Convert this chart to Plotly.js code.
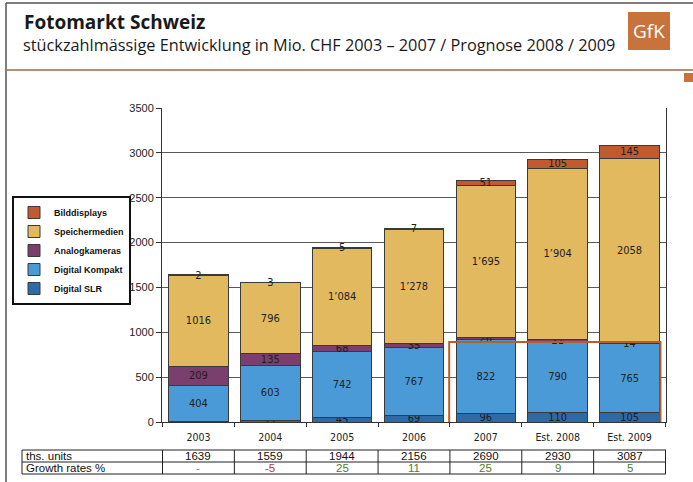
<!DOCTYPE html>
<html>
<head>
<meta charset="utf-8">
<script src="https://cdn.plot.ly/plotly-3.0.1.min.js"></script>
<style>
html,body{margin:0;padding:0;background:#ffffff;}
#chart{width:693px;height:482px;}
</style>
</head>
<body>
<div id="chart"></div>
<script>
const categories = ['2003','2004','2005','2006','2007','Est. 2008','Est. 2009'];
const digitalSLR = [8,22,45,69,96,110,105];
const digitalKompakt = [404,603,742,767,822,790,765];
const analogkameras = [209,135,68,35,26,21,14];
const speichermedien = [1016,796,1084,1278,1695,1904,2058];
const speichermedienLabels = ['1016','796','1\u2019084','1\u2019278','1\u2019695','1\u2019904','2058'];
const bilddisplays = [2,3,5,7,51,105,145];
const thsUnits = [1639,1559,1944,2156,2690,2930,3087];
const growthRates = ['-','-5','25','11','25','9','5'];
const yTicks = [0,500,1000,1500,2000,2500,3000,3500];

const sans = '"Liberation Sans", Arial, sans-serif';
const cond = '"DejaVu Sans Condensed", Verdana, sans-serif';

function barTrace(name, vals, labels, color) {
  return {
    type: 'bar', name: name, x: categories, y: vals,
    text: labels || vals.map(String),
    textposition: 'inside', insidetextanchor: 'middle', textangle: 0,
    textfont: {family: cond, size: 11, color: '#1e1e1e'},
    marker: {color: color, line: {color: '#3a3a3a', width: 1}},
    hoverinfo: 'name+y'
  };
}

const data = [
  barTrace('Digital SLR', digitalSLR, null, '#2f6aa8'),
  barTrace('Digital Kompakt', digitalKompakt, null, '#4a9ad8'),
  barTrace('Analogkameras', analogkameras, null, '#7a3f6c'),
  barTrace('Speichermedien', speichermedien, speichermedienLabels, '#e2b95e'),
  barTrace('Bilddisplays', bilddisplays, null, '#c25a30')
];

// plot area geometry helpers (paper coords)
const L = 162, R = 666, T = 108, B = 422;
const px = p => (p - L) / (R - L);
const py = p => (B - p) / (B - T);

const shapes = [];
const annotations = [];

// frame lines
shapes.push({type:'line', xref:'paper', yref:'paper', x0:px(6), x1:px(693), y0:py(3), y1:py(3), line:{color:'#555', width:1.5}});
shapes.push({type:'line', xref:'paper', yref:'paper', x0:px(6), x1:px(6), y0:py(3), y1:py(482), line:{color:'#555', width:1.5}});
shapes.push({type:'line', xref:'paper', yref:'paper', x0:px(6), x1:px(693), y0:py(70), y1:py(70), line:{color:'#9a6a48', width:1.5}});
shapes.push({type:'rect', xref:'paper', yref:'paper', x0:px(684), x1:px(694), y0:py(73), y1:py(82), fillcolor:'#c8733c', line:{width:0}});
// GfK logo
shapes.push({type:'rect', xref:'paper', yref:'paper', x0:px(628), x1:px(670), y0:py(12), y1:py(50), fillcolor:'#c8733c', line:{width:0}});
annotations.push({xref:'paper', yref:'paper', x:px(649), y:py(31), text:'GfK', showarrow:false, xanchor:'center', yanchor:'middle', font:{family:'"Open Sans", sans-serif', size:19, color:'#ffffff'}});
// titles
annotations.push({xref:'paper', yref:'paper', x:px(22), y:py(22), text:'Fotomarkt Schweiz', showarrow:false, xanchor:'left', yanchor:'middle', font:{family:'"Open Sans", sans-serif', size:19, color:'#1a1a1a', weight:'bold'}});
annotations.push({xref:'paper', yref:'paper', x:px(21), y:py(45), text:'stückzahlmässige Entwicklung in Mio. CHF 2003 – 2007 / Prognose 2008 / 2009', showarrow:false, xanchor:'left', yanchor:'middle', font:{family:'"Open Sans", sans-serif', size:16.3, color:'#1a1a1a'}});

// highlight box for 2007-2009
shapes.push({type:'rect', xref:'x', yref:'y', x0:3.49, x1:6.43, y0:-11, y1:891, line:{color:'#b5602a', width:2}, layer:'above'});

// table
const tTop = 450, tMid = 462, tBot = 474, tLeft = 22;
[tTop, tMid, tBot].forEach(yy => {
  shapes.push({type:'line', xref:'paper', yref:'paper', x0:px(tLeft), x1:1, y0:py(yy), y1:py(yy), line:{color:'#222', width:1}});
});
shapes.push({type:'line', xref:'paper', yref:'paper', x0:px(tLeft), x1:px(tLeft), y0:py(tTop), y1:py(tBot), line:{color:'#222', width:1}});
for (let k = 0; k <= categories.length; k++) {
  shapes.push({type:'line', xref:'x', yref:'paper', x0:k-0.5, x1:k-0.5, y0:py(tTop), y1:py(tBot), line:{color:'#222', width:1}});
}
annotations.push({xref:'paper', yref:'paper', x:px(tLeft+2), y:py((tTop+tMid)/2), text:'ths. units', showarrow:false, xanchor:'left', yanchor:'middle', font:{family:sans, size:11.5, color:'#111'}});
annotations.push({xref:'paper', yref:'paper', x:px(tLeft+2), y:py((tMid+tBot)/2), text:'Growth rates %', showarrow:false, xanchor:'left', yanchor:'middle', font:{family:sans, size:11.5, color:'#111'}});
categories.forEach((c, i) => {
  annotations.push({xref:'x', yref:'paper', x:i, y:py((tTop+tMid)/2), text:String(thsUnits[i]), showarrow:false, xanchor:'center', yanchor:'middle', font:{family:sans, size:11.5, color:'#111'}});
  const g = growthRates[i];
  const col = g === '-' ? '#888' : (g.startsWith('-') ? '#b0402a' : '#4f7d2e');
  annotations.push({xref:'x', yref:'paper', x:i, y:py((tMid+tBot)/2), text:g, showarrow:false, xanchor:'center', yanchor:'middle', font:{family:sans, size:11.5, color:col}});
});

const layout = {
  width: 693, height: 482,
  margin: {l: L, r: 693 - R, t: T, b: 482 - B, pad: 0},
  paper_bgcolor: '#ffffff', plot_bgcolor: '#ffffff',
  barmode: 'stack', bargap: 0.17,
  showlegend: true,
  legend: {x: px(12), y: py(196), xanchor: 'left', yanchor: 'top', traceorder: 'reversed',
           bgcolor: '#ffffff', bordercolor: '#111', borderwidth: 2, itemwidth: 30,
           font: {family: sans, size: 9, color: '#111', weight: 'bold'}, tracegroupgap: 0},
  uniformtext: {minsize: 11, mode: 'show'},
  xaxis: {type: 'category', showline: true, linecolor: '#333', linewidth: 1,
          ticks: 'outside', tickson: 'boundaries', ticklen: 4, tickcolor: '#333', ticklabelstandoff: 5,
          tickfont: {family: cond, size: 10.5, color: '#222'}, showgrid: false, fixedrange: true},
  yaxis: {range: [0, 3500], tickvals: yTicks, ticktext: yTicks.map(String),
          showline: true, linecolor: '#333', linewidth: 1, mirror: true,
          ticks: 'outside', ticklen: 5, tickcolor: '#333',
          gridcolor: '#5a5a5a', gridwidth: 1, zeroline: false,
          tickfont: {family: sans, size: 11, color: '#222'}, fixedrange: true},
  shapes: shapes, annotations: annotations,
  hovermode: false
};

Plotly.newPlot('chart', data, layout, {displayModeBar: false, staticPlot: true});
</script>
</body>
</html>
